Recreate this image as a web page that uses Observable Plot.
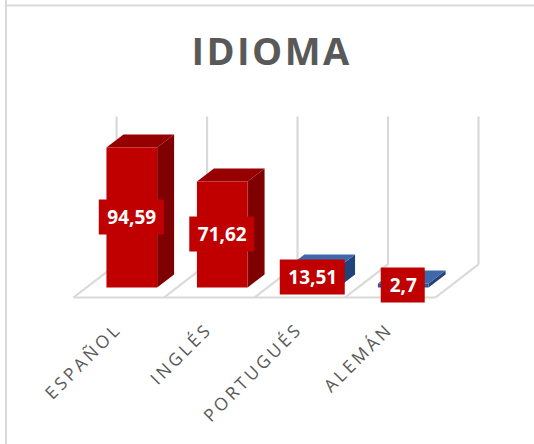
<!DOCTYPE html>
<html><head><meta charset="utf-8">
<script src="https://cdn.jsdelivr.net/npm/d3@7"></script>
<script src="https://cdn.jsdelivr.net/npm/@observablehq/plot@0.6"></script>
<style>
html,body{margin:0;padding:0;background:#fff;overflow:hidden}
svg{display:block}
</style></head><body>
<script>
const idiomas = ["ESPAÑOL","INGLÉS","PORTUGUÉS","ALEMÁN"];
const valores = [94.59,71.62,13.51,2.7];
const etiquetas = ["94,59","71,62","13,51","2,7"];
const titulo = "IDIOMA";
const caraFrente = ["#c00000","#c00000","#2f5597","#2f5597"];
const caraLado = ["#7f0000","#7f0000","#22437a","#22437a"];
const caraTapa = ["#960000","#960000","#3f68ab","#3f68ab"];

// oblique projection: category units, value units, depth 0..1
const depthX = 0.476, depthY = 22.3, yTop = 100;
const P = (c, z, v) => ({x: c + z*depthX, y: v + z*depthY});
const barW = 0.56, z0 = 0.303, z1 = 0.697;

const faces = [];
idiomas.forEach((n,i) => {
  const v = valores[i];
  const l = i + (1-barW)/2, r = l + barW;
  const add = (id, fill, pts) => pts.forEach(p => faces.push({...p, id:n+id, fill}));
  add("-side", caraLado[i], [P(r,z0,0),P(r,z1,0),P(r,z1,v),P(r,z0,v),P(r,z0,0)]);
  add("-top", caraTapa[i], [P(l,z0,v),P(r,z0,v),P(r,z1,v),P(l,z1,v),P(l,z0,v)]);
  add("-front", caraFrente[i], [P(l,z0,0),P(r,z0,0),P(r,z0,v),P(l,z0,v),P(l,z0,0)]);
});

const n = idiomas.length;
const floor = [P(0,0,0),P(n,0,0)].map(p=>({...p,id:"front"}));
d3.range(n+1).forEach(i=>{
  floor.push({...P(i,0,0),id:"d"+i},{...P(i,1,0),id:"d"+i});
  floor.push({...P(i,1,0),id:"w"+i},{...P(i,1,yTop),id:"w"+i});
});

const labels = idiomas.map((c,i)=>{
  const p = P(i+.5, z0, valores[i]/2);
  const hw = (etiquetas[i].length>3 ? 32.5 : 22)/90.5, hh = 17.5/1.48;
  return {x:p.x,y:p.y,t:etiquetas[i],x1:p.x-hw,x2:p.x+hw,y1:p.y-hh,y2:p.y+hh};
});
const cats = idiomas.map((c,i)=>({c, ...P(i+.5,0,-19.5)}));
const spaced = s => (index,scales,values,dims,ctx,next) => {
  const g = next(index,scales,values,dims,ctx);
  g.style.letterSpacing = s;
  return g;
};

const chart = Plot.plot({
  width:534,height:444,margin:0,
  x:{domain:[0,n+depthX],range:[73,478],axis:null},
  y:{domain:[0,yTop+depthY],range:[297,116],axis:null},
  marks:[
    Plot.frame({anchor:"left",stroke:"#d9d9d9",strokeWidth:2,inset:0,insetLeft:5.5}),
    Plot.frame({anchor:"top",stroke:"#d9d9d9",strokeWidth:2,inset:0,insetTop:5,insetLeft:5}),
    Plot.line(floor,{x:"x",y:"y",z:"id",stroke:"#d9d9d9",strokeWidth:2.2,strokeLinecap:"butt"}),
    Plot.line(faces,{x:"x",y:"y",z:"id",fill:"fill",stroke:null,curve:"linear"}),
    Plot.rect(labels,{x1:"x1",x2:"x2",y1:"y1",y2:"y2",fill:"#c00000"}),
    Plot.text(labels,{x:"x",y:"y",text:"t",fill:"#fff",fontFamily:"Open Sans",fontWeight:700,fontSize:19}),
    Plot.text(cats,{x:"x",y:"y",text:"c",rotate:-45,textAnchor:"end",fill:"#595959",fontFamily:"Open Sans",fontSize:17.5,render:spaced("3.2px")}),
    Plot.text([titulo],{frameAnchor:"top",dy:38,dx:4,text:d=>d,fill:"#595959",fontFamily:"Open Sans",fontWeight:700,fontSize:38,render:spaced("2.4px")})
  ]
});
document.body.appendChild(chart);
</script></body></html>
